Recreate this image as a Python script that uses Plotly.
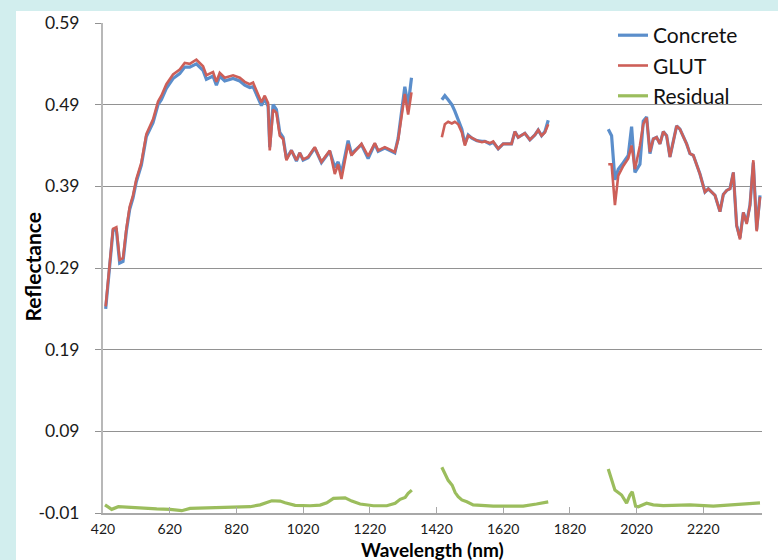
import plotly.graph_objects as go

# ---- data ----
wavelength = [428, 450, 460, 470, 480, 490, 500, 510, 520, 535, 550, 570, 585, 595, 610, 630, 650, 665,
              680, 700, 720, 730, 750, 760, 770, 785, 810, 830, 845, 860, 870, 890, 895, 905, 915, 920,
              930, 940, 950, 960, 970, 985, 1000, 1010, 1020, 1035, 1055, 1075, 1100, 1115, 1125, 1135,
              1155, 1165, 1195, 1215, 1235, 1245, 1265, 1295, 1305, 1325, 1335, 1345,
              1390,
              1436, 1445, 1455, 1466, 1475, 1485, 1496, 1505, 1515, 1526, 1541, 1556, 1565, 1580, 1590,
              1605, 1620, 1645, 1655, 1665, 1685, 1700, 1715, 1725, 1735, 1745, 1755,
              1850,
              1935, 1945, 1955, 1965, 1980, 1995, 2005, 2015, 2030, 2040, 2050, 2060, 2070, 2080, 2090,
              2100, 2110, 2120, 2140, 2150, 2170, 2180, 2190, 2210, 2225, 2235, 2255, 2270, 2280, 2290,
              2300, 2310, 2320, 2330, 2340, 2350, 2360, 2370, 2380, 2390]

concrete = [0.240, 0.336, 0.337, 0.296, 0.298, 0.335, 0.362, 0.376, 0.396, 0.416, 0.451, 0.468, 0.490, 0.496,
            0.510, 0.522, 0.528, 0.536, 0.536, 0.540, 0.532, 0.521, 0.525, 0.514, 0.525, 0.519, 0.522, 0.519,
            0.514, 0.511, 0.512, 0.492, 0.489, 0.497, 0.488, 0.438, 0.490, 0.484, 0.456, 0.450, 0.424, 0.434,
            0.421, 0.431, 0.422, 0.425, 0.437, 0.419, 0.433, 0.413, 0.420, 0.406, 0.446, 0.430, 0.441, 0.424,
            0.442, 0.433, 0.437, 0.431, 0.449, 0.512, 0.489, 0.523,
            None,
            0.496, 0.501, 0.496, 0.490, 0.482, 0.472, 0.460, 0.442, 0.453, 0.449, 0.446, 0.445, 0.445, 0.442,
            0.444, 0.436, 0.442, 0.442, 0.457, 0.450, 0.455, 0.447, 0.453, 0.459, 0.452, 0.457, 0.471,
            None,
            0.460, 0.452, 0.398, 0.411, 0.419, 0.428, 0.463, 0.407, 0.417, 0.470, 0.475, 0.430, 0.448, 0.450,
            0.442, 0.457, 0.452, 0.426, 0.464, 0.460, 0.442, 0.430, 0.428, 0.405, 0.383, 0.387, 0.379, 0.359,
            0.380, 0.385, 0.387, 0.407, 0.342, 0.327, 0.358, 0.346, 0.367, 0.419, 0.337, 0.379]

glut = [0.243, 0.338, 0.340, 0.300, 0.302, 0.338, 0.365, 0.379, 0.399, 0.419, 0.454, 0.472, 0.494, 0.501,
        0.515, 0.527, 0.533, 0.541, 0.540, 0.545, 0.537, 0.526, 0.530, 0.518, 0.529, 0.523, 0.526, 0.523,
        0.518, 0.515, 0.517, 0.496, 0.493, 0.501, 0.492, 0.434, 0.484, 0.480, 0.452, 0.448, 0.422, 0.434,
        0.422, 0.431, 0.423, 0.426, 0.438, 0.420, 0.434, 0.405, 0.417, 0.399, 0.442, 0.428, 0.442, 0.427,
        0.443, 0.434, 0.438, 0.432, 0.447, 0.503, 0.478, 0.505,
        None,
        0.450, 0.466, 0.469, 0.467, 0.469, 0.466, 0.456, 0.440, 0.452, 0.449, 0.446, 0.444, 0.445, 0.443,
        0.445, 0.436, 0.442, 0.442, 0.457, 0.450, 0.455, 0.447, 0.453, 0.459, 0.452, 0.456, 0.466,
        None,
        0.417, 0.417, 0.367, 0.403, 0.415, 0.424, 0.440, 0.411, 0.440, 0.466, 0.474, 0.432, 0.448, 0.450,
        0.442, 0.457, 0.452, 0.426, 0.464, 0.460, 0.442, 0.430, 0.428, 0.405, 0.383, 0.387, 0.379, 0.359,
        0.380, 0.385, 0.387, 0.407, 0.342, 0.325, 0.358, 0.344, 0.367, 0.422, 0.335, 0.377]

residual_wl = [426, 446, 466, 491, 531, 581, 621, 656, 681, 761, 801, 861, 891, 911, 926, 951, 966, 996,
               1041, 1071, 1091, 1111, 1146, 1166, 1191, 1231, 1271, 1296, 1311, 1326, 1335, 1346,
               1390,
               1436, 1445, 1455, 1467, 1476, 1485, 1496, 1511, 1530, 1590, 1680, 1720, 1755,
               1850,
               1935, 1946, 1955, 1975, 1990, 2000, 2007, 2017, 2025, 2050, 2070, 2100, 2180, 2250, 2300,
               2350, 2390]
residual = [0.000, -0.0055, -0.0023, -0.003, -0.0043, -0.005, -0.0055, -0.0072, -0.0043, -0.0036, -0.003,
            -0.0023, 0.000, 0.0025, 0.005, 0.0046, 0.0025, -0.0006, -0.0011, -0.0003, 0.0025, 0.0079, 0.0086,
            0.0046, 0.001, -0.0011, -0.0011, 0.0018, 0.0067, 0.0091, 0.014, 0.018,
            None,
            0.046, 0.038, 0.030, 0.024, 0.015, 0.010, 0.006, 0.0037, 0.000, -0.0015, -0.0015, 0.001, 0.0037,
            None,
            0.044, 0.030, 0.018, 0.012, 0.002, 0.012, 0.016, -0.0015, -0.0023, 0.002, 0.000, -0.001, 0.000,
            -0.0015, 0.000, 0.001, 0.0025]

x_ticks = [420, 620, 820, 1020, 1220, 1420, 1620, 1820, 2020, 2220]
y_ticks = [-0.01, 0.09, 0.19, 0.29, 0.39, 0.49, 0.59]
y_ticktext = ["-0.01", "0.09", "0.19", "0.29", "0.39", "0.49", "0.59"]

FONT = "Lato, Carlito, 'Noto Sans', sans-serif"

fig = go.Figure()
fig.add_trace(go.Scatter(x=wavelength, y=concrete, name="Concrete", mode="lines",
                         line=dict(color="#5b8ecb", width=3.2), connectgaps=False))
fig.add_trace(go.Scatter(x=wavelength, y=glut, name="GLUT", mode="lines",
                         line=dict(color="#cd5f58", width=2.6), connectgaps=False))
fig.add_trace(go.Scatter(x=residual_wl, y=residual, name="Residual", mode="lines",
                         line=dict(color="#9bbd5d", width=3.2), connectgaps=False))

L, R, T, B = 103, 16, 20, 47
W, H = 778, 560
pw, ph = W - L - R, H - T - B

def px_x(p):
    return (p - L) / pw

def px_y(p):
    return (H - B - p) / ph

fig.add_shape(type="rect", xref="paper", yref="paper", layer="below",
              x0=px_x(16), x1=px_x(W + 5), y0=px_y(H + 5), y1=px_y(8),
              fillcolor="white", line=dict(width=0))

fig.update_layout(
    width=W, height=H,
    margin=dict(l=L, r=R, t=T, b=B),
    paper_bgcolor="#d2eeee",
    plot_bgcolor="white",
    font=dict(family=FONT, color="#1a1a1a"),
    showlegend=True,
    legend=dict(x=px_x(613), y=px_y(12), xanchor="left", yanchor="top",
                bgcolor="rgba(0,0,0,0)", font=dict(size=21, color="#111111"),
                tracegroupgap=0, itemwidth=30),
    xaxis=dict(range=[420, 2396], tickmode="array", tickvals=x_ticks,
               ticktext=[str(v) for v in x_ticks],
               showgrid=False, zeroline=False, showline=True, linecolor="#a8a8a8", linewidth=1.5,
               ticks="inside", ticklen=6, tickcolor="#a8a8a8", tickwidth=1,
               tickfont=dict(size=14, color="#1a1a1a"), ticklabelstandoff=2),
    yaxis=dict(range=[-0.01, 0.59], tickmode="array", tickvals=y_ticks, ticktext=y_ticktext,
               showgrid=True, gridcolor="#929292", gridwidth=1.2, zeroline=False,
               showline=True, linecolor="#b8b8b8", linewidth=2,
               ticks="outside", ticklen=6, tickcolor="#929292", tickwidth=1,
               tickfont=dict(size=17.5, color="#1a1a1a"), ticklabelstandoff=12),
    annotations=[
        dict(text="<b>Reflectance</b>", xref="paper", yref="paper", x=px_x(33), y=px_y(265),
             textangle=-90, showarrow=False, xanchor="center", yanchor="middle",
             font=dict(size=21, color="#000000", family=FONT)),
        dict(text="<b>Wavelength (nm)</b>", xref="paper", yref="paper", x=px_x(432), y=px_y(550),
             showarrow=False, xanchor="center", yanchor="middle",
             font=dict(size=19, color="#000000", family=FONT)),
    ],
)

fig.write_html("out.html")
